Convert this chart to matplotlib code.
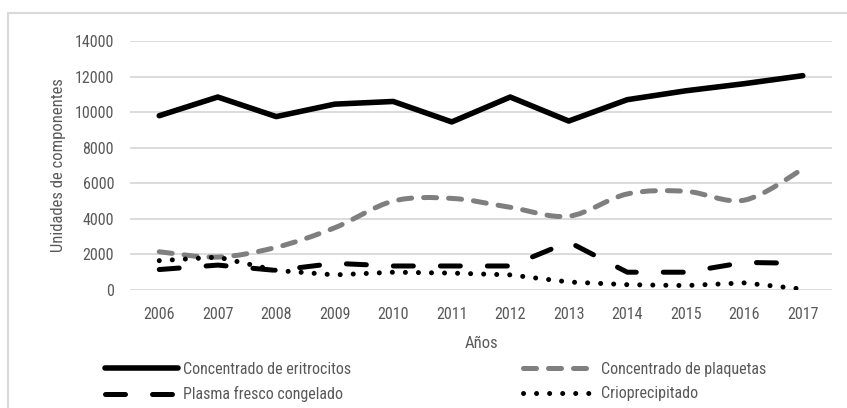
import matplotlib.pyplot as plt
import numpy as np
from matplotlib.path import Path
from matplotlib.patches import PathPatch, Rectangle
from matplotlib.lines import Line2D

plt.rcParams['font.family'] = ['Roboto Condensed', 'DejaVu Sans']

anios = ['2006', '2007', '2008', '2009', '2010', '2011',
         '2012', '2013', '2014', '2015', '2016', '2017']
eritrocitos = [9800, 10850, 9750, 10450, 10600, 9450, 10850, 9500, 10700, 11200, 11600, 12050]
plaquetas = [2150, 1850, 2400, 3500, 5000, 5150, 4650, 4150, 5400, 5550, 5050, 6800]
plasma = [1150, 1400, 1100, 1500, 1350, 1350, 1350, 2700, 1000, 1000, 1550, 1500]
crio = [1650, 1850, 1100, 850, 1000, 950, 850, 450, 300, 250, 400, 50]

gris_texto = '#595959'


def curva_suave(x, y):
    # curva tipo Catmull-Rom pasada a segmentos Bezier cubicos
    x = np.asarray(x, float)
    y = np.asarray(y, float)
    verts = [(x[0], y[0])]
    codes = [Path.MOVETO]
    n = len(x)
    for i in range(n - 1):
        x0, y0 = (x[i - 1], y[i - 1]) if i > 0 else (x[i], y[i])
        x3, y3 = (x[i + 2], y[i + 2]) if i + 2 < n else (x[i + 1], y[i + 1])
        c1 = (x[i] + (x[i + 1] - x0) / 6, y[i] + (y[i + 1] - y0) / 6)
        c2 = (x[i + 1] - (x3 - x[i]) / 6, y[i + 1] - (y3 - y[i]) / 6)
        verts += [c1, c2, (x[i + 1], y[i + 1])]
        codes += [Path.CURVE4] * 3
    return Path(verts, codes)


# estilos de cada serie
est_eri = dict(color='black', linewidth=4.0, solid_capstyle='round', solid_joinstyle='round')
est_pla = dict(color='black', linewidth=3.6, dashes=(4.0, 5.4), dash_capstyle='round')
est_plq = dict(color='#7f7f7f', linewidth=3.6, dashes=(2.6, 2.4), dash_capstyle='round')
est_cri = dict(color='black', linewidth=3.6, dashes=(0.01, 2.6), dash_capstyle='round')

fig = plt.figure(figsize=(8.47, 4.08), dpi=100)
fig.patches.append(Rectangle((8 / 847, -0.01), 1.0, 1 - 13 / 408 + 0.01,
                             transform=fig.transFigure, fill=False,
                             edgecolor='#d9d9d9', linewidth=1.5))

ax = fig.add_axes([130 / 847, 1 - 290 / 408, 702 / 847, (290 - 41) / 408])
x = np.arange(len(anios))

ax.plot(x, eritrocitos, **est_eri)
ax.plot(x, plasma, **est_pla)
ax.add_patch(PathPatch(curva_suave(x, plaquetas), facecolor='none',
                       edgecolor='#7f7f7f', linewidth=3.6,
                       linestyle=(0, (2.6, 2.4)), capstyle='round'))
ax.plot(x, crio, **est_cri)

ax.set_xlim(-0.5, 11.5)
ax.set_ylim(0, 14000)
ax.set_yticks(np.arange(0, 14001, 2000))
ax.set_xticks(x)
ax.set_xticklabels(anios)
ax.yaxis.grid(True, color='#d9d9d9', linewidth=1.3)
ax.set_axisbelow(True)
for s in ax.spines.values():
    s.set_visible(False)
ax.tick_params(length=0, labelsize=11.5, colors=gris_texto, pad=11.5)
ax.tick_params(axis='x', pad=12)
ax.set_xlabel('Años', fontsize=12, color=gris_texto, labelpad=10)
ax.set_ylabel('Unidades de componentes', fontsize=12, color=gris_texto, labelpad=6)

leg_kw = dict(loc='upper left', frameon=False, fontsize=11.5, labelcolor=gris_texto,
              handlelength=4.57, handletextpad=0.31, labelspacing=0.58,
              borderaxespad=0, borderpad=0)
fig.legend([Line2D([], [], **est_eri), Line2D([], [], **est_pla)],
           ['Concentrado de eritrocitos', 'Plasma fresco congelado'],
           bbox_to_anchor=(105 / 847, 1 - 362 / 408), **leg_kw)
fig.legend([Line2D([], [], **est_plq), Line2D([], [], **est_cri)],
           ['Concentrado de plaquetas', 'Crioprecipitado'],
           bbox_to_anchor=(523 / 847, 1 - 362 / 408), **leg_kw)

fig.savefig('out.png', dpi=100)
